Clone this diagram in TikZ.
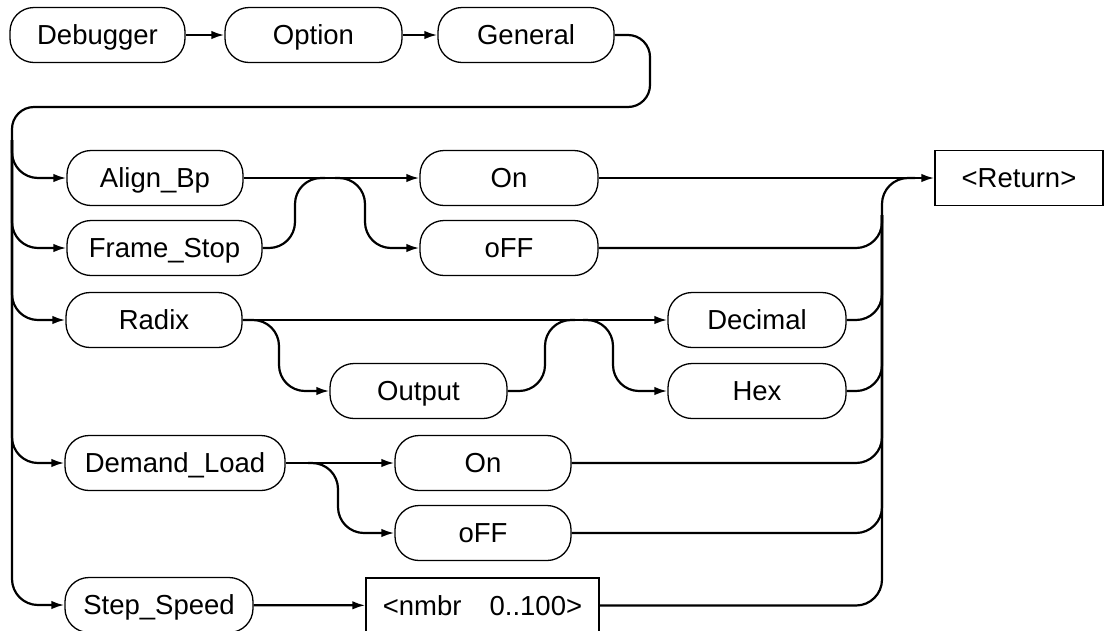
\documentclass[tikz,border=0pt]{standalone}
\usepackage{fontspec}
\setmainfont{Liberation Sans}
\usetikzlibrary{arrows.meta}
\begin{document}
\begin{tikzpicture}[x=1pt,y=-1pt,
  txt/.style={font=\fontsize{27.5}{32}\selectfont,text height=25pt,text depth=5.6pt},
  box/.style={draw,line width=1.3pt,rounded corners=24pt,minimum height=55pt,inner sep=0pt,txt},
  sq/.style={draw,line width=1.3pt,minimum height=55pt,inner sep=0pt,txt},
  conn/.style={line width=2.2pt,rounded corners=26pt},
  arr/.style={-{Latex[length=13pt,width=8.5pt]}}
]
\useasboundingbox (0,0) rectangle (1105,630);
\clip (0,0) rectangle (1105,630);

% nodes
\node[box,minimum width=175pt] (deb) at (97.5,35) {Debugger};
\node[box,minimum width=177pt] (opt) at (313.5,35) {Option};
\node[box,minimum width=176pt] (gen) at (526,35) {General};
\node[box,minimum width=176pt] (align) at (155,178) {Align\_Bp};
\node[box,minimum width=195pt] (frame) at (164.5,248) {Frame\_Stop};
\node[box,minimum width=178pt] (on1) at (509,178) {On};
\node[box,minimum width=178pt] (off1) at (509,248) {oFF};
\node[sq,minimum width=168pt] (ret) at (1019,178) {<Return>};
\node[box,minimum width=176pt] (radix) at (154,320) {Radix};
\node[box,minimum width=177pt] (output) at (418.5,391) {Output};
\node[box,minimum width=178pt] (dec) at (757,320) {Decimal};
\node[box,minimum width=178pt] (hex) at (757,391) {Hex};
\node[box,minimum width=220pt] (dl) at (175,463) {Demand\_Load};
\node[box,minimum width=176pt] (on2) at (483,463) {On};
\node[box,minimum width=176pt] (off2) at (483,533) {oFF};
\node[box,minimum width=188pt] (step) at (159,605) {Step\_Speed};
\node[sq,minimum width=233pt] (nmbr) at (482.5,605.5) {<nmbr\hspace{28pt}0..100>};

% coordinates
\coordinate (g1) at (650,35);
\coordinate (g2) at (650,107);
\coordinate (l0) at (12,107);
\coordinate (l1) at (12,140);
\coordinate (fx) at (295,178);
\coordinate (fx2) at (325,178);
\coordinate (bx0) at (335,178);
\coordinate (bx) at (365,178);
\coordinate (rx) at (279,320);
\coordinate (ox) at (545,320);
\coordinate (ox2) at (575,320);
\coordinate (hx0) at (583,320);
\coordinate (hx) at (613,320);
\coordinate (dx0) at (308,463);
\coordinate (dx) at (338,463);
\coordinate (r0) at (882,178);
\coordinate (r1) at (882,215);
\coordinate (rE) at (915,178);

% top row
\draw[conn,arr] (deb) -- (opt);
\draw[conn,arr] (opt) -- (gen);
\draw[conn,rounded corners=22pt] (gen.east) -- (g1) -- (g2) -- (l0) -- (l1);

% left bar branches
\draw[conn,arr] (l1) |- (align.west);
\draw[conn,arr] (l1) |- (frame.west);
\draw[conn,arr] (l1) |- (radix.west);
\draw[conn,arr] (l1) |- (dl.west);
\draw[conn,arr] (l1) |- (step.west);

% Align_Bp / Frame_Stop
\draw[conn,arr] (align) -- (on1);
\draw[conn] (frame.east) -| (fx) -- (fx2);
\draw[conn,arr] (bx0) -- (bx) |- (off1.west);

% Radix
\draw[conn,arr] (radix) -- (dec);
\draw[conn,arr] (radix.east) -- (rx) |- (output.west);
\draw[conn] (output.east) -| (ox) -- (ox2);
\draw[conn,arr] (hx0) -- (hx) |- (hex.west);

% Demand_Load
\draw[conn,arr] (dl) -- (on2);
\draw[conn,arr] (dx0) -- (dx) |- (off2.west);

% Step_Speed
\draw[conn,arr] (step) -- (nmbr);

% right collector
\draw[conn,arr] (on1) -- (ret);
\draw[conn] (nmbr.east) -| (r0) -- (rE);
\draw[conn] (off1.east) -| (r1);
\draw[conn] (dec.east) -| (r1);
\draw[conn] (hex.east) -| (r1);
\draw[conn] (on2.east) -| (r1);
\draw[conn] (off2.east) -| (r1);
\end{tikzpicture}
\end{document}
